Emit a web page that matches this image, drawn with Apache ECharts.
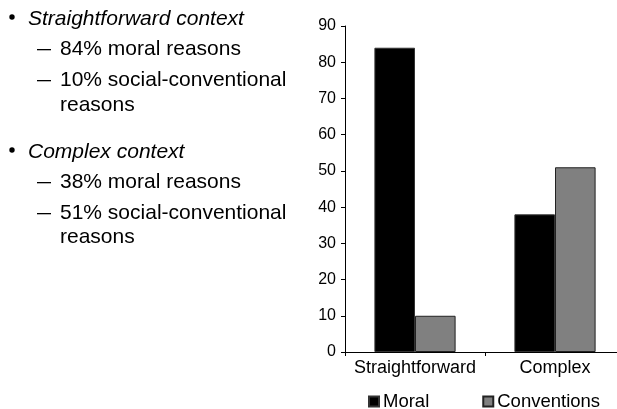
<!DOCTYPE html>
<html>
<head>
<meta charset="utf-8">
<style>
  html, body { margin: 0; padding: 0; background: #fff; }
  #chart { width: 617px; height: 409px; }
</style>
<script src="https://cdn.jsdelivr.net/npm/echarts@6/dist/echarts.min.js"></script>
</head>
<body>
<div id="chart"></div>
<script>
// Reasons given, by context (percent)
const categories = ['Straightforward', 'Complex'];
const moralValues = [84, 38];
const conventionValues = [10, 51];
const seriesNames = ['Moral', 'Conventions'];

// Bullet list beside the chart
const notes = [
  { level: 0, text: 'Straightforward context' },
  { level: 1, text: '84% moral reasons' },
  { level: 1, text: '10% social-conventional' },
  { level: 2, text: 'reasons' },
  { level: 0, text: 'Complex context' },
  { level: 1, text: '38% moral reasons' },
  { level: 1, text: '51% social-conventional' },
  { level: 2, text: 'reasons' }
];
const noteRows = [19, 49, 80, 105, 152, 182, 213, 237];

const FONT = '"Liberation Sans", Arial, Helvetica, sans-serif';

const graphics = [];
notes.forEach((n, i) => {
  const y = noteRows[i];
  if (n.level === 0) {
    graphics.push({ type: 'circle', shape: { cx: 12, cy: y - 2, r: 2.7 }, style: { fill: '#000' } });
    graphics.push({ type: 'text', x: 28, y: y, style: { text: n.text, fill: '#000', font: 'italic 21px ' + FONT, textVerticalAlign: 'middle' } });
  } else {
    if (n.level === 1) {
      graphics.push({ type: 'rect', shape: { x: 37, y: y, width: 14, height: 1.3 }, style: { fill: '#000' } });
    }
    graphics.push({ type: 'text', x: 60, y: y, style: { text: n.text, fill: '#000', font: '21px ' + FONT, textVerticalAlign: 'middle' } });
  }
});

const chart = echarts.init(document.getElementById('chart'), null, { renderer: 'canvas' });
chart.setOption({
  animation: false,
  backgroundColor: '#fff',
  textStyle: { fontFamily: FONT, color: '#000' },
  // the plot area runs past the right edge of the canvas
  grid: { left: 345, width: 280, top: 26, bottom: 57, containLabel: false, outerBoundsMode: 'none' },
  legend: {
    left: 363,
    top: 387,
    itemWidth: 10,
    itemHeight: 10,
    itemGap: 53,
    icon: 'rect',
    textStyle: { fontSize: 18.5, color: '#000', fontFamily: FONT, padding: [0, 0, 0, -1] },
    data: seriesNames
  },
  xAxis: {
    type: 'category',
    data: categories,
    axisLine: { lineStyle: { color: '#000', width: 1 } },
    axisTick: { show: true, alignWithLabel: false, interval: 0, length: 4, lineStyle: { color: '#000' } },
    axisLabel: { fontSize: 18, color: '#000', margin: 7, interval: 0, hideOverlap: false, fontFamily: FONT },
    splitLine: { show: false }
  },
  yAxis: {
    type: 'value',
    min: 0,
    max: 90,
    interval: 10,
    axisLine: { show: true, lineStyle: { color: '#000', width: 1 } },
    axisTick: { show: true, length: 4, lineStyle: { color: '#000' } },
    axisLabel: { fontSize: 16, color: '#000', margin: 9, fontFamily: FONT },
    splitLine: { show: false }
  },
  series: [
    {
      name: seriesNames[0],
      type: 'bar',
      data: moralValues,
      barGap: '0%',
      barCategoryGap: '42%',
      itemStyle: { color: '#000', borderColor: '#333', borderWidth: 1 }
    },
    {
      name: seriesNames[1],
      type: 'bar',
      data: conventionValues,
      itemStyle: { color: '#808080', borderColor: '#222', borderWidth: 1 }
    }
  ],
  graphic: graphics
});
</script>
</body>
</html>
